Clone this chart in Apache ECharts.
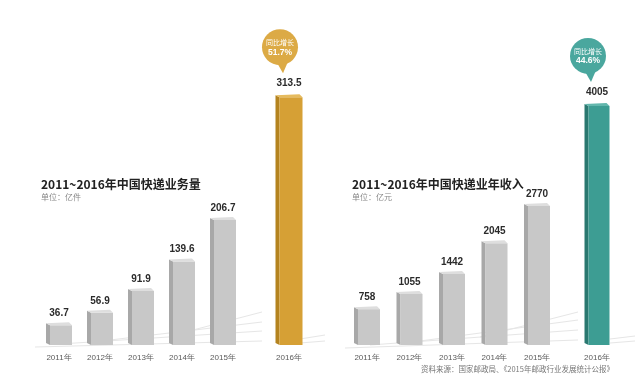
<!DOCTYPE html>
<html>
<head>
<meta charset="utf-8">
<script src="https://cdn.jsdelivr.net/npm/echarts@6/dist/echarts.min.js"></script>
<style>html,body{margin:0;padding:0;background:#fff}#c{width:640px;height:391px}</style>
</head>
<body>
<div id="c"></div>
<script>
const years = ['2011年', '2012年', '2013年', '2014年', '2015年'];
const hlYear = ['2016年'];
const volume = [36.7, 56.9, 91.9, 139.6, 206.7];
const volume2016 = [313.5];
const revenue = [758, 1055, 1442, 2045, 2770];
const revenue2016 = [4005];
const volumeGrowth = '51.7%';
const revenueGrowth = '44.6%';
const growthLabel = '同比增长';
const titleLeft = '2011~2016年中国快递业务量';
const unitLeft = '单位：亿件';
const titleRight = '2011~2016年中国快递业年收入';
const unitRight = '单位：亿元';
const sourceText = '资料来源：国家邮政局、《2015年邮政行业发展统计公报》';

const CJK = '"Noto Sans CJK SC", sans-serif';
const NUM = '"Liberation Sans", Arial, sans-serif';

const GREY = {front: '#c8c8c8', side: '#a8a8a8', top: '#dedede'};
const ORANGE = {front: '#d6a035', side: '#b4831f', top: '#e6bb5e', bubble: '#dcaa45'};
const TEAL = {front: '#3d9d93', side: '#2a7870', top: '#63b7ad', bubble: '#4aa79e'};

function bar3d(colors, w, growth, labelGap) {
  return function (params, api) {
    const i = api.value(0), v = api.value(1);
    const p = api.coord([i, v]);
    const b = api.coord([i, 0]);
    const cx = p[0], t = p[1], bot = b[1];
    const d = 4;
    const x0 = cx - w / 2, x1 = cx + w / 2;
    const children = [
      {type: 'polygon', shape: {points: [[x0, t + 1], [x0 + d, t + 3], [x0 + d, bot], [x0, bot - 2]]}, style: {fill: colors.side}},
      {type: 'rect', shape: {x: x0 + d, y: t + 3, width: w - d, height: bot - t - 3}, style: {fill: colors.front}},
      {type: 'polygon', shape: {points: [[x0, t + 1], [x1 - 3, t], [x1, t + 3], [x0 + d, t + 3]]}, style: {fill: colors.top}},
      {type: 'text', x: cx, y: t - labelGap, style: {text: String(v), fill: '#2b2b2b', font: 'bold 10px ' + NUM, align: 'center', verticalAlign: 'middle'}}
    ];
    if (growth) {
      const bx = cx - 9, by = t - 47, r = 18;
      children.push(
        {type: 'polygon', shape: {points: [[bx - 5, by + 12], [bx + 9, by + 12], [cx - 6, t - 21]]}, style: {fill: colors.bubble}},
        {type: 'circle', shape: {cx: bx, cy: by, r: r}, style: {fill: colors.bubble}},
        {type: 'text', x: bx, y: by - 5, style: {text: growthLabel, fill: '#fff', font: '7px ' + CJK, align: 'center', verticalAlign: 'middle'}},
        {type: 'text', x: bx, y: by + 5, style: {text: growth, fill: '#fff', font: 'bold 8.5px ' + NUM, align: 'center', verticalAlign: 'middle'}}
      );
    }
    return {type: 'group', children: children};
  };
}

function toData(arr) { return arr.map((v, i) => [i, v]); }

const axisLabel = {color: '#5a5a5a', fontSize: 8, margin: 9, fontFamily: NUM};
function xAx(data, gi) {
  return {type: 'category', data: data, gridIndex: gi, axisLine: {show: false}, axisTick: {show: false}, axisLabel: axisLabel};
}
function yAx(max, gi) {
  return {type: 'value', min: 0, max: max, gridIndex: gi, show: false, splitLine: {show: false}};
}

function lines(arr) {
  return arr.map(s => ({type: 'line', shape: {x1: s[0], y1: s[1], x2: s[2], y2: s[3]}, style: {stroke: '#e6e6e6', lineWidth: 1}, silent: true, z: -1}));
}

const chart = echarts.init(document.getElementById('c'), null, {renderer: 'canvas'});
chart.setOption({
  backgroundColor: '#ffffff',
  animation: false,
  title: [
    {text: titleLeft, left: 41, top: 178, padding: 0, itemGap: 3, subtext: unitLeft,
      textStyle: {fontSize: 12, fontWeight: 'bold', color: '#222', fontFamily: CJK},
      subtextStyle: {fontSize: 8, color: '#888', fontFamily: CJK}},
    {text: titleRight, left: 352, top: 178, padding: 0, itemGap: 3, subtext: unitRight,
      textStyle: {fontSize: 12, fontWeight: 'bold', color: '#222', fontFamily: CJK},
      subtextStyle: {fontSize: 8, color: '#888', fontFamily: CJK}},
    {text: sourceText, left: 421, top: 365, padding: 0,
      textStyle: {fontSize: 7.5, fontWeight: 'normal', color: '#777', fontFamily: CJK}}
  ],
  graphic: lines([
    [35, 347, 262, 341], [60, 344, 262, 331], [110, 340, 262, 322], [170, 336, 262, 312],
    [300, 343, 325, 341], [300, 339, 325, 335],
    [345, 348, 578, 340], [370, 345, 578, 330], [420, 341, 578, 320], [480, 337, 578, 312],
    [610, 343, 635, 341], [610, 339, 635, 336]
  ]),
  grid: [
    {left: 38.5, right: 396.5, top: 100, bottom: 46},
    {left: 268.5, right: 330.5, top: 81, bottom: 46},
    {left: 345.75, right: 81.75, top: 100, bottom: 46},
    {left: 576, right: 22, top: 79, bottom: 46}
  ],
  xAxis: [xAx(years, 0), xAx(hlYear, 1), xAx(years, 2), xAx(hlYear, 3)],
  yAxis: [yAx(395.6, 0), yAx(330, 1), yAx(4780, 2), yAx(4400, 3)],
  series: [
    {type: 'custom', xAxisIndex: 0, yAxisIndex: 0, data: toData(volume), encode: {x: 0, y: 1}, renderItem: bar3d(GREY, 26, null, 9)},
    {type: 'custom', xAxisIndex: 1, yAxisIndex: 1, data: toData(volume2016), encode: {x: 0, y: 1}, renderItem: bar3d(ORANGE, 27, volumeGrowth, 11)},
    {type: 'custom', xAxisIndex: 2, yAxisIndex: 2, data: toData(revenue), encode: {x: 0, y: 1}, renderItem: bar3d(GREY, 26, null, 9)},
    {type: 'custom', xAxisIndex: 3, yAxisIndex: 3, data: toData(revenue2016), encode: {x: 0, y: 1}, renderItem: bar3d(TEAL, 25, revenueGrowth, 11)}
  ]
});
</script>
</body>
</html>
